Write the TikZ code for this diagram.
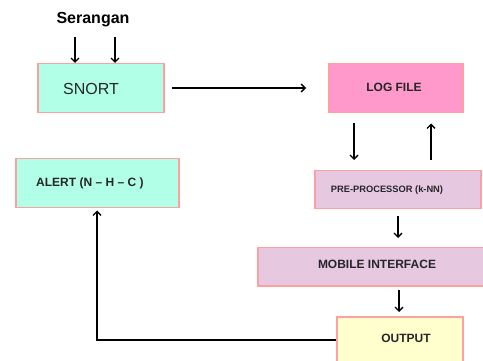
\documentclass[tikz,border=0pt]{standalone}
\usepackage{fontspec}
\setmainfont{Liberation Sans}
\usetikzlibrary{arrows.meta,calc}
\definecolor{cyanbox}{RGB}{178,255,232}
\definecolor{pinkbox}{RGB}{255,153,204}
\definecolor{lavbox}{RGB}{230,200,224}
\definecolor{yelbox}{RGB}{255,255,206}
\definecolor{boxedge}{RGB}{255,160,160}
\begin{document}
\begin{tikzpicture}[x=1pt,y=-1pt,
  box/.style={draw=boxedge,line width=1.5pt,inner sep=0pt,anchor=north west},
  lbl/.style={font=\fontsize{12}{14}\selectfont\bfseries,text=black!85,inner sep=0pt},
  arr/.style={line width=1.6pt,-{Straight Barb[length=4pt,width=8pt,line width=1.4pt]}}]
\useasboundingbox (0,0) rectangle (483,361);
\clip (0,0) rectangle (483,361);
\fill[white] (0,0) rectangle (483,361);
% boxes
\node[box,fill=cyanbox,minimum width=126pt,minimum height=49pt] (snort) at (37,63) {};
\node[box,fill=pinkbox,minimum width=134pt,minimum height=49pt] (log) at (328,63) {};
\node[box,fill=lavbox,minimum width=166pt,minimum height=38pt] (pre) at (314,170) {};
\node[box,fill=lavbox,minimum width=226pt,minimum height=38pt] (mob) at (257,247) {};
\node[box,fill=yelbox,minimum width=126pt,minimum height=70pt] (out) at (336,316) {};
\node[box,fill=cyanbox,minimum width=163pt,minimum height=49pt] (alert) at (15,158) {};
% texts
\node[font=\fontsize{16}{18}\selectfont\bfseries,inner sep=0pt] (ser) at (93,20) {Serangan};
\node[font=\fontsize{16}{18}\selectfont,text=black!85,inner sep=0pt] (tsnort) at (91,89) {SNORT};
\node[lbl] (tlog) at (394,87) {LOG FILE};
\node[lbl,font=\fontsize{9.3}{11}\selectfont\bfseries] (tpre) at (387,190) {PRE-PROCESSOR (k-NN)};
\node[lbl] (tmob) at (377,264) {MOBILE INTERFACE};
\node[lbl] (tout) at (406,338) {OUTPUT};
\node[lbl,anchor=west] (talert) at (36,183) {ALERT (N -- H -- C )};
% coordinates
\coordinate (s1) at (75,37);
\coordinate (s2) at (115,37);
\coordinate (a1) at (172,88);
\coordinate (a2) at (306,88);
\coordinate (xd) at (354,0);
\coordinate (xu) at (431,0);
\coordinate (xm) at (398,0);
\coordinate (xo) at (399,0);
\coordinate (xa) at (97,0);
\coordinate (bend) at (97,340);
% connectors
\draw[arr] (s1) -- (s1 |- snort.north);
\draw[arr] (s2) -- (s2 |- snort.north);
\draw[arr] (a1) -- (a2);
\draw[arr] ($(log.south -| xd)+(0,10)$) -- ($(pre.north -| xd)+(0,-10)$);
\draw[arr] ($(pre.north -| xu)+(0,-10)$) -- ($(log.south -| xu)+(0,10)$);
\draw[arr] ($(pre.south -| xm)+(0,7)$) -- ($(mob.north -| xm)+(0,-9)$);
\draw[arr] ($(mob.south -| xo)+(0,3)$) -- ($(out.north -| xo)+(0,-4)$);
\draw[arr] (out.west |- bend) -- (bend) -- ($(alert.south -| xa)+(0,2)$);
\end{tikzpicture}
\end{document}
